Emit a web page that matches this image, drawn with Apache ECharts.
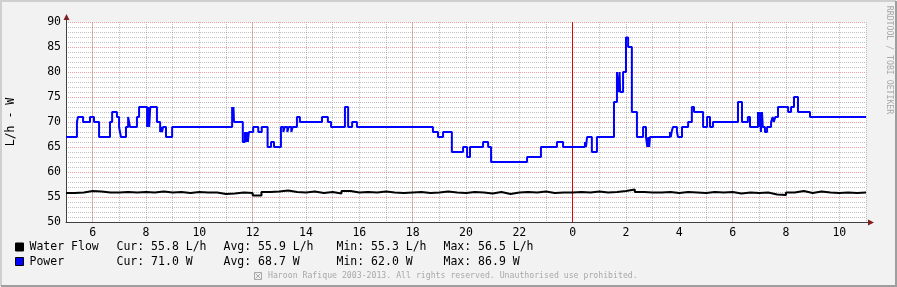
<!DOCTYPE html>
<html><head><meta charset="utf-8">
<script src="https://cdn.jsdelivr.net/npm/echarts@6/dist/echarts.min.js"></script>
<style>html,body{margin:0;padding:0;background:#f2f2f2}#c{width:897px;height:287px}</style>
</head><body><div id="c"></div>
<script>
// ---- data (hours since midnight of day 1; 24 = 0:00 next day) ----
const xLabelHours = [6, 8, 10, 12, 14, 16, 18, 20, 22, 24, 26, 28, 30, 32, 34];
const xLabelText  = ['6','8','10','12','14','16','18','20','22','0','2','4','6','8','10'];
const xMajorHours = [6, 12, 18, 30];
const midnightHour = 24;

const powerSteps = [
 [5.00,67],[5.41,70],[5.45,71],[5.64,70],[5.90,71],[6.05,70],[6.24,67],[6.65,70],[6.73,72],[6.91,71],
 [6.99,69],[7.06,67],[7.25,69],[7.33,71],[7.40,69],[7.66,71],[7.74,73],[8.04,69],[8.08,73],[8.12,69],
 [8.16,73],[8.41,70],[8.53,68],[8.57,69],[8.60,68],[8.64,69],[8.75,67],[8.98,69],[11.23,73],[11.27,70],
 [11.28,73],[11.30,70],[11.63,66],[11.71,68],[11.74,66],[11.78,68],[11.82,66],[11.86,68],[12.02,69],[12.21,68],
 [12.34,69],[12.56,65],[12.69,66],[12.80,65],[13.06,69],[13.15,68],[13.20,69],[13.30,68],[13.35,69],[13.45,68],
 [13.50,69],[13.66,71],[13.77,70],[14.60,71],[14.82,70],[14.94,69],[15.46,73],[15.58,69],[15.73,70],[15.91,69],
 [18.76,68],[18.95,67],[19.14,68],[19.47,64],[19.89,65],[20.04,63],[20.15,65],[20.64,66],[20.83,65],[20.94,62],
 [22.29,63],[22.81,65],[23.41,66],[23.64,65],[24.46,66],[24.50,65],[24.54,67],[24.72,64],[24.91,67],[25.55,74],
 [25.66,80],[25.72,76],[25.76,80],[25.78,76],[25.89,80],[26.00,86.9],[26.08,85],[26.22,72],[26.41,67],[26.64,69],
 [26.75,67],[26.80,65],[26.84,67],[26.87,65],[26.90,67],[27.65,68],[27.68,67],[27.71,68],[27.76,69],[27.91,68],
 [27.95,67],[28.10,69],[28.33,70],[28.47,73],[28.55,72],[28.89,69],[29.04,71],[29.15,69],[29.26,70],[30.20,74],
 [30.35,70],[30.57,71],[30.65,69],[30.95,72],[30.99,69],[31.02,72],[31.06,68],[31.10,72],[31.13,69],[31.21,68],
 [31.29,69],[31.44,70],[31.50,71],[31.54,70],[31.60,71],[31.70,73],[32.08,72],[32.19,73],[32.30,75],[32.45,72],
 [32.90,71],[35.00,71]
];

const flowSteps = [
 [5.00,55.8],[5.33,55.9],[5.67,56.2],[6.00,56.1],[6.33,55.9],[6.67,55.9],[7.00,56.0],[7.33,55.9],[7.67,56.0],[8.00,55.9],
 [8.33,56.1],[8.67,55.9],[9.00,56.0],[9.33,55.8],[9.67,56.0],[10.00,55.9],[10.33,55.9],[10.67,55.6],[11.00,55.7],[11.33,55.9],
 [11.67,55.8],[12.00,55.3],[12.33,56.0],[12.67,56.1],[13.00,56.3],[13.33,56.0],[13.67,55.9],[14.00,56.1],[14.33,55.8],[14.67,56.0],
 [15.00,55.7],[15.33,56.2],[15.67,55.9],[16.00,56.0],[16.33,55.9],[16.67,56.1],[17.00,55.9],[17.33,55.8],[17.67,55.9],[18.00,56.0],
 [18.33,55.8],[18.67,55.9],[19.00,56.1],[19.33,55.9],[19.67,55.8],[20.00,56.0],[20.33,55.9],[20.67,55.7],[21.00,56.0],[21.33,55.6],
 [21.67,55.9],[22.00,56.0],[22.33,55.9],[22.67,56.1],[23.00,55.8],[23.33,55.9],[23.67,55.9],[24.00,56.0],[24.33,55.9],[24.67,56.1],
 [25.00,55.9],[25.33,56.0],[25.67,56.2],[26.00,56.5],[26.33,56.0],[26.67,55.9],[27.00,55.9],[27.33,56.0],[27.67,55.8],[28.00,56.0],
 [28.33,55.9],[28.67,55.8],[29.00,56.0],[29.33,55.9],[29.67,56.0],[30.00,55.7],[30.33,55.9],[30.67,55.8],[31.00,55.9],[31.33,55.5],
 [31.67,55.4],[32.00,55.9],[32.33,56.2],[32.67,55.8],[33.00,56.1],[33.33,55.9],[33.67,55.8],[34.00,55.9],[34.33,55.8],[34.67,55.9],[35.00,55.8]
];

const legendRows = [
  {name:'Water Flow', color:'#000000', cur:'Cur: 55.8 L/h', avg:'Avg: 55.9 L/h', min:'Min: 55.3 L/h', max:'Max: 56.5 L/h'},
  {name:'Power',      color:'#0000ff', cur:'Cur: 71.0 W',   avg:'Avg: 68.7 W',   min:'Min: 62.0 W',   max:'Max: 86.9 W'}
];

// ---- style ----
const MONO = "'DejaVu Sans Mono', monospace";
const FS = 11.5;
const MINOR = 'rgba(150,150,150,0.6)';
const MAJOR = 'rgba(222,79,79,0.55)';
const ARROW = '#801f1f';
const AXIS = '#404040';
const G = {left: 66, top: 22, width: 800, height: 200};

const chart = echarts.init(document.getElementById('c'), null, {renderer: 'canvas'});

const graphics = [];
graphics.push({type:'polyline', shape:{points:[[1,286],[1,1],[896,1]]}, style:{stroke:'#cfcfcf', lineWidth:2, fill:null}, silent:true});
graphics.push({type:'polyline', shape:{points:[[1,286],[896,286],[896,1]]}, style:{stroke:'#9e9e9e', lineWidth:2, fill:null}, silent:true});
graphics.push({type:'line', shape:{x1:G.left+0.5, y1:G.top, x2:G.left+0.5, y2:G.top-4}, style:{stroke:AXIS, lineWidth:1}, silent:true, z:10});
graphics.push({type:'polygon', shape:{points:[[G.left-2.5,G.top-2],[G.left+3.5,G.top-2],[G.left+0.5,G.top-8]]}, style:{fill:ARROW}, silent:true, z:10});
const xr = G.left + G.width, yb = G.top + G.height;
graphics.push({type:'line', shape:{x1:xr, y1:yb+0.5, x2:xr+4, y2:yb+0.5}, style:{stroke:AXIS, lineWidth:1}, silent:true, z:10});
graphics.push({type:'polygon', shape:{points:[[xr+2,yb-2.5],[xr+2,yb+3.5],[xr+8,yb+0.5]]}, style:{fill:ARROW}, silent:true, z:10});
graphics.push({type:'text', x:11, y:G.top + G.height/2, rotation:Math.PI/2,
  style:{text:'L/h - W', font:FS+'px '+MONO, fill:'#000', textAlign:'center', textVerticalAlign:'middle', verticalAlign:'middle'}, silent:true});
graphics.push({type:'text', x:889, y:60, rotation:-Math.PI/2,
  style:{text:'RRDTOOL / TOBI OETIKER', font:'8.2px '+MONO, fill:'#a8a8a8', textAlign:'center', textVerticalAlign:'middle', verticalAlign:'middle'}, silent:true});
const colX = [29.5, 116.5, 223.5, 336.5, 443.5];
const rowY = [247.5, 262];
legendRows.forEach((r, i) => {
  graphics.push({type:'rect', shape:{x:15.5, y:rowY[i]-4.5, width:8, height:8}, style:{fill:r.color, stroke:'#000', lineWidth:1}, silent:true});
  [r.name, r.cur, r.avg, r.min, r.max].forEach((t, j) => {
    graphics.push({type:'text', x:colX[j], y:rowY[i],
      style:{text:t, font:FS+'px '+MONO, fill:'#000', textAlign:'left', textVerticalAlign:'middle', verticalAlign:'middle'}, silent:true});
  });
});
graphics.push({type:'text', x:268, y:276,
  style:{text:'Haroon Rafique 2003-2013. All rights reserved. Unauthorised use prohibited.', font:'8.2px '+MONO, fill:'#a8a8a8', textAlign:'left', textVerticalAlign:'middle', verticalAlign:'middle'}, silent:true});
graphics.push({type:'rect', shape:{x:254.5, y:272.5, width:7, height:7}, style:{fill:null, stroke:'#a8a8a8', lineWidth:1}, silent:true});
graphics.push({type:'polyline', shape:{points:[[255.5,273.5],[260.5,278.5]]}, style:{stroke:'#a8a8a8', lineWidth:1, fill:null}, silent:true});
graphics.push({type:'polyline', shape:{points:[[260.5,273.5],[255.5,278.5]]}, style:{stroke:'#a8a8a8', lineWidth:1, fill:null}, silent:true});

chart.setOption({
  animation: false,
  backgroundColor: '#f2f2f2',
  grid: {left: G.left, top: G.top, width: G.width, height: G.height, show: true, backgroundColor: '#ffffff', borderWidth: 0},
  xAxis: {
    type: 'value', min: 5, max: 35, interval: 1,
    axisLine: {show: true, onZero: false, lineStyle: {color: AXIS, width: 1}},
    axisTick: {show: false},
    axisLabel: {
      margin: 5, color: '#000', fontFamily: MONO, fontSize: FS,
      formatter: v => { const k = xLabelHours.indexOf(Math.round(v)); return k >= 0 ? xLabelText[k] : ''; }
    },
    splitLine: {show: true, lineStyle: {color: MINOR, width: 1, type: [1, 1]}}
  },
  yAxis: {
    type: 'value', min: 50, max: 90, interval: 5,
    axisLine: {show: true, onZero: false, lineStyle: {color: AXIS, width: 1}},
    axisTick: {show: false},
    axisLabel: {margin: 5, color: '#000', fontFamily: MONO, fontSize: FS},
    splitLine: {show: true, lineStyle: {color: MAJOR, width: 1, type: [1, 1]}},
    minorTick: {show: false, splitNumber: 5},
    minorSplitLine: {show: true, lineStyle: {color: MINOR, width: 1, type: [1, 1]}}
  },
  series: [
    {
      name: 'Water Flow', type: 'line', step: 'end', symbol: 'none', clip: true,
      data: flowSteps, lineStyle: {color: '#000000', width: 2}, z: 3,
      markLine: {silent: true, symbol: 'none', label: {show: false}, z: 1,
        data: xMajorHours.map(h => ({xAxis: h, lineStyle: {color: MAJOR, width: 1, type: [1, 1]}}))
          .concat([{xAxis: midnightHour, lineStyle: {color: '#e00000', width: 1, type: 'solid'}}])}
    },
    {
      name: 'Power', type: 'line', step: 'end', symbol: 'none', clip: true,
      data: powerSteps, lineStyle: {color: '#0000ff', width: 2}, z: 4
    }
  ],
  graphic: graphics
});
</script>
</body></html>
